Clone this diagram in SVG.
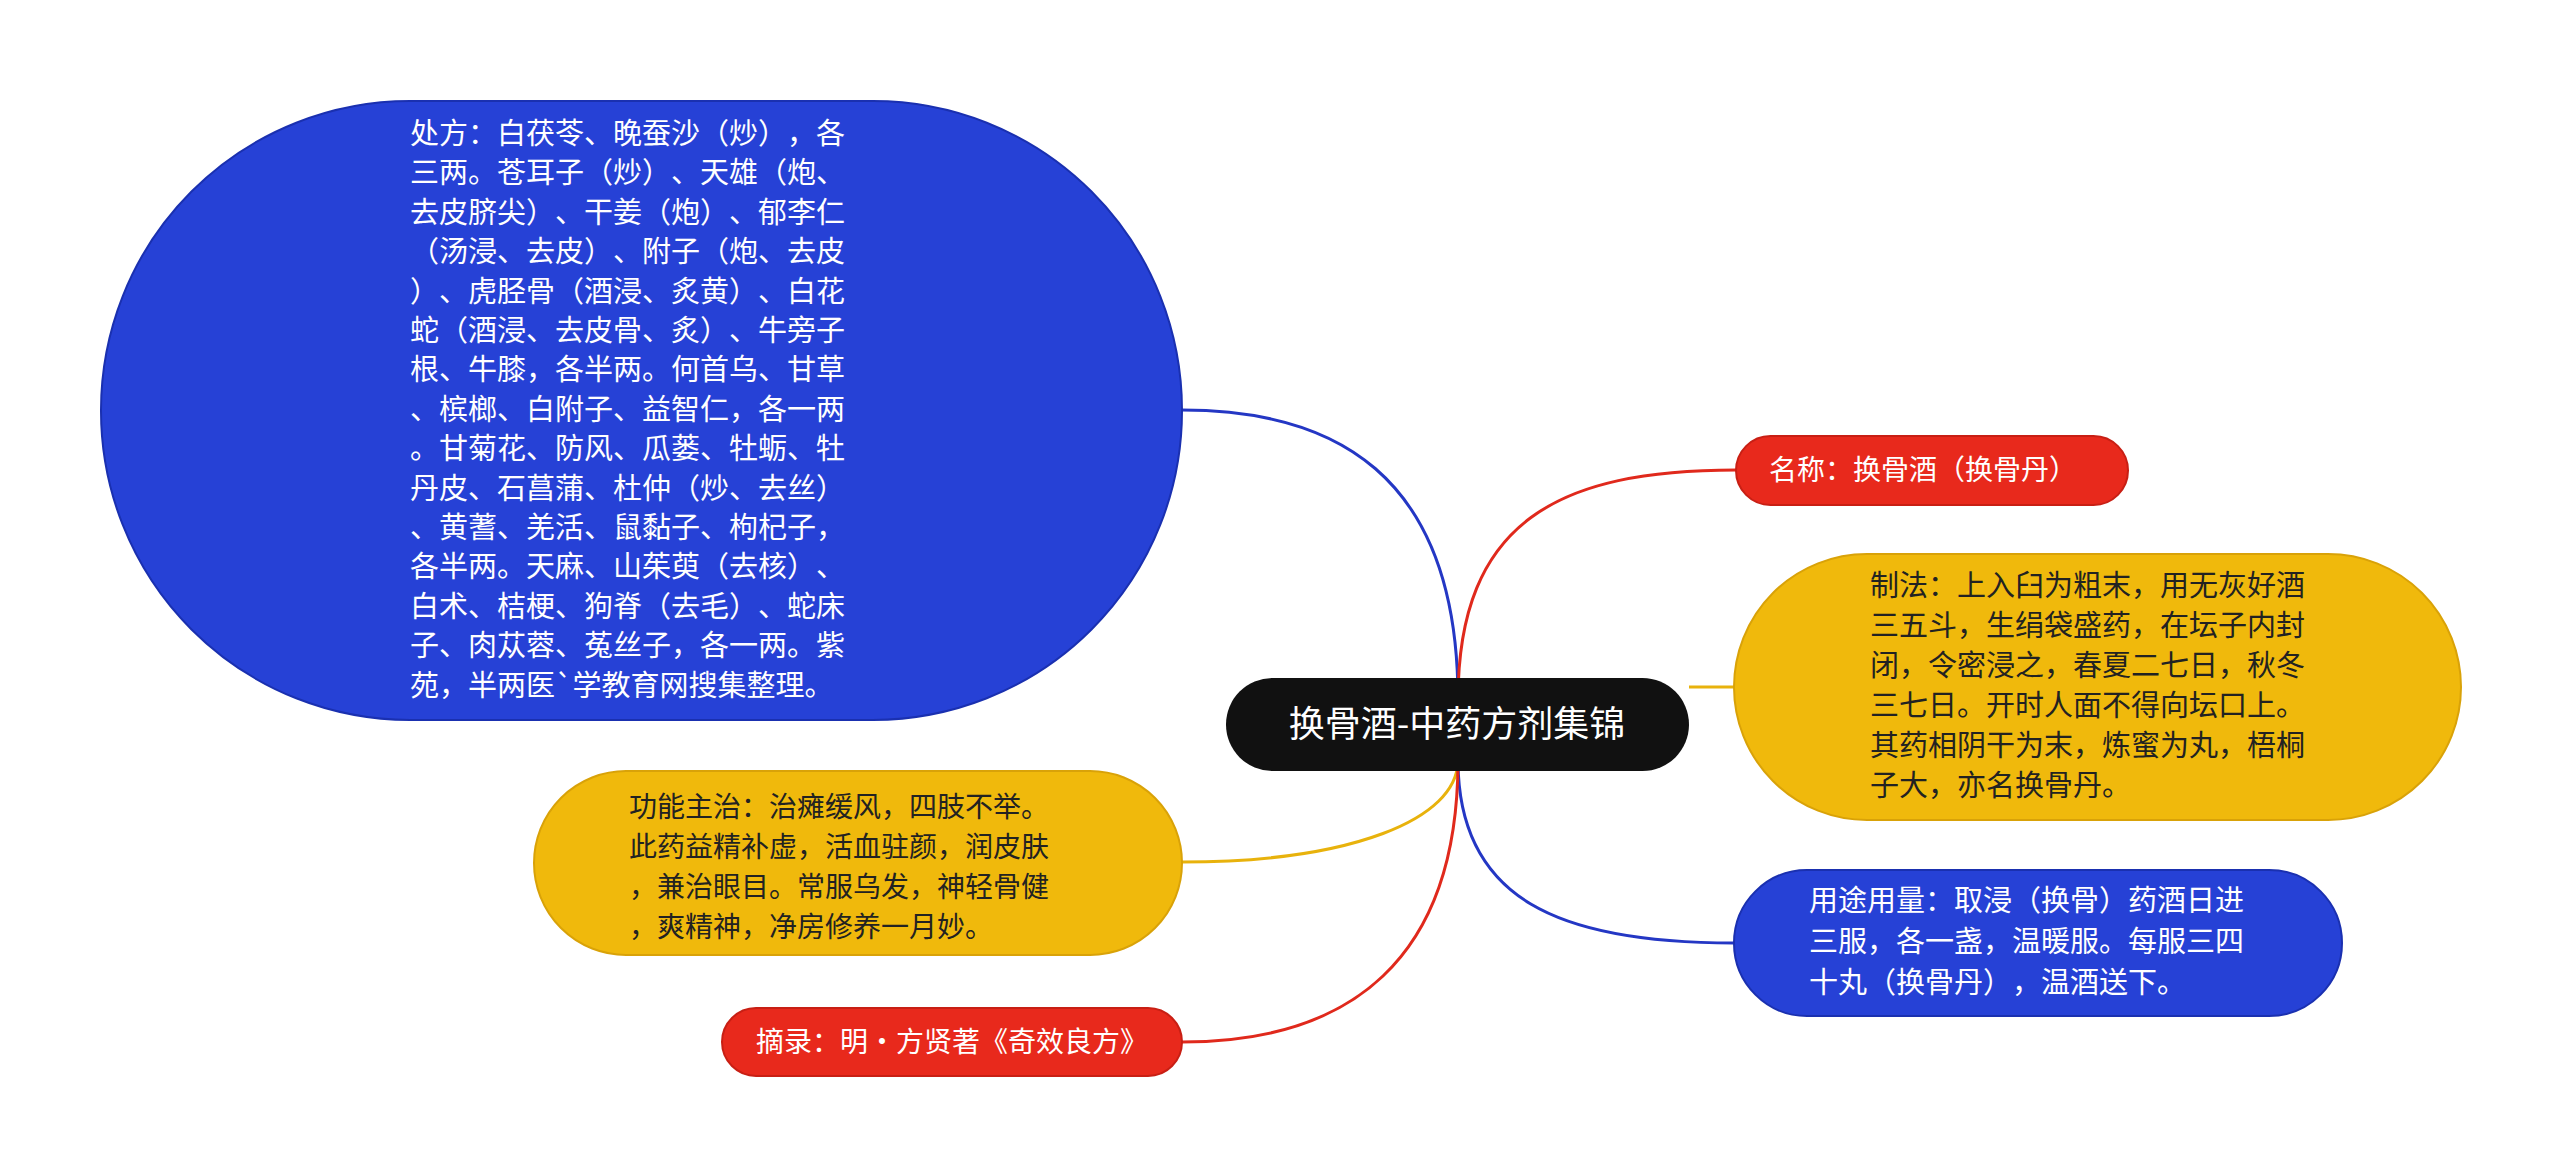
<svg xmlns="http://www.w3.org/2000/svg" width="2560" height="1176" viewBox="0 0 2560 1176">
<style>
text{font-family:"Noto Sans CJK SC","Noto Sans",sans-serif;font-size:28px;text-spacing-trim:space-all;font-feature-settings:"chws" 0,"halt" 0,"palt" 0}
.w{fill:#ffffff}.d{fill:#222222}
.c{fill:none;stroke-width:3}
</style>
<rect width="2560" height="1176" fill="#ffffff"/>
<g id="connectors">
<path class="c" stroke="#2437c4" d="M1458 700 C1458 470 1330 410 1182 410"/>
<path class="c" stroke="#e0291c" d="M1458 700 C1458 520 1560 470 1736 470"/>
<path class="c" stroke="#e8b20c" d="M1689 687 L1734 687"/>
<path class="c" stroke="#2437c4" d="M1458 760 C1458 900 1560 943 1734 943"/>
<path class="c" stroke="#e8b20c" d="M1458 760 C1458 820 1350 862 1182 862"/>
<path class="c" stroke="#e0291c" d="M1458 760 C1458 960 1350 1042 1182 1042"/>
</g>
<g id="n_center">
<rect x="1226" y="678" width="463" height="93" rx="46.5" fill="#111111"/>
<text x="1457" y="737" text-anchor="middle" class="w" style="font-size:36px">换骨酒-中药方剂集锦</text>
</g>
<g id="n_chufang">
<rect x="101" y="101" width="1081" height="619" rx="309" fill="#2641d6" stroke="#1a30b0" stroke-width="2"/>
<text class="w" style="font-size:29px">
<tspan x="410" y="144">处方：白茯苓、晚蚕沙（炒），各</tspan>
<tspan x="410" y="183">三两。苍耳子（炒）、天雄（炮、</tspan>
<tspan x="410" y="223">去皮脐尖）、干姜（炮）、郁李仁</tspan>
<tspan x="410" y="262">（汤浸、去皮）、附子（炮、去皮</tspan>
<tspan x="410" y="302">）、虎胫骨（酒浸、炙黄）、白花</tspan>
<tspan x="410" y="341">蛇（酒浸、去皮骨、炙）、牛旁子</tspan>
<tspan x="410" y="380">根、牛膝，各半两。何首乌、甘草</tspan>
<tspan x="410" y="420">、槟榔、白附子、益智仁，各一两</tspan>
<tspan x="410" y="459">。甘菊花、防风、瓜蒌、牡蛎、牡</tspan>
<tspan x="410" y="499">丹皮、石菖蒲、杜仲（炒、去丝）</tspan>
<tspan x="410" y="538">、黄蓍、羌活、鼠黏子、枸杞子，</tspan>
<tspan x="410" y="577">各半两。天麻、山茱萸（去核）、</tspan>
<tspan x="410" y="617">白术、桔梗、狗脊（去毛）、蛇床</tspan>
<tspan x="410" y="656">子、肉苁蓉、菟丝子，各一两。紫</tspan>
<tspan x="410" y="696">苑，半两医`学教育网搜集整理。</tspan>
</text>
</g>
<g id="n_gongneng">
<rect x="534" y="771" width="648" height="184" rx="92" fill="#f0b90c" stroke="#d9a208" stroke-width="2"/>
<text class="d" style="font-size:28px">
<tspan x="629" y="817">功能主治：治瘫缓风，四肢不举。</tspan>
<tspan x="629" y="857">此药益精补虚，活血驻颜，润皮肤</tspan>
<tspan x="629" y="897">，兼治眼目。常服乌发，神轻骨健</tspan>
<tspan x="629" y="937">，爽精神，净房修养一月妙。</tspan>
</text>
</g>
<g id="n_zhailu">
<rect x="722" y="1008" width="460" height="68" rx="34" fill="#e8291c" stroke="#c81f14" stroke-width="2"/>
<text x="756" y="1052" class="w">摘录：明·方贤著《奇效良方》</text>
</g>
<g id="n_mingcheng">
<rect x="1736" y="436" width="392" height="69" rx="34.5" fill="#e8291c" stroke="#c81f14" stroke-width="2"/>
<text x="1769" y="480" class="w">名称：换骨酒（换骨丹）</text>
</g>
<g id="n_zhifa">
<rect x="1734" y="554" width="727" height="266" rx="133" fill="#f0b90c" stroke="#d9a208" stroke-width="2"/>
<text class="d" style="font-size:29px">
<tspan x="1870" y="596">制法：上入臼为粗末，用无灰好酒</tspan>
<tspan x="1870" y="636">三五斗，生绢袋盛药，在坛子内封</tspan>
<tspan x="1870" y="676">闭，令密浸之，春夏二七日，秋冬</tspan>
<tspan x="1870" y="716">三七日。开时人面不得向坛口上。</tspan>
<tspan x="1870" y="756">其药相阴干为末，炼蜜为丸，梧桐</tspan>
<tspan x="1870" y="796">子大，亦名换骨丹。</tspan>
</text>
</g>
<g id="n_yongtu">
<rect x="1734" y="870" width="608" height="146" rx="73" fill="#2641d6" stroke="#1a30b0" stroke-width="2"/>
<text class="w" style="font-size:29px">
<tspan x="1809" y="911">用途用量：取浸（换骨）药酒日进</tspan>
<tspan x="1809" y="952">三服，各一盏，温暖服。每服三四</tspan>
<tspan x="1809" y="993">十丸（换骨丹），温酒送下。</tspan>
</text>
</g>
</svg>
